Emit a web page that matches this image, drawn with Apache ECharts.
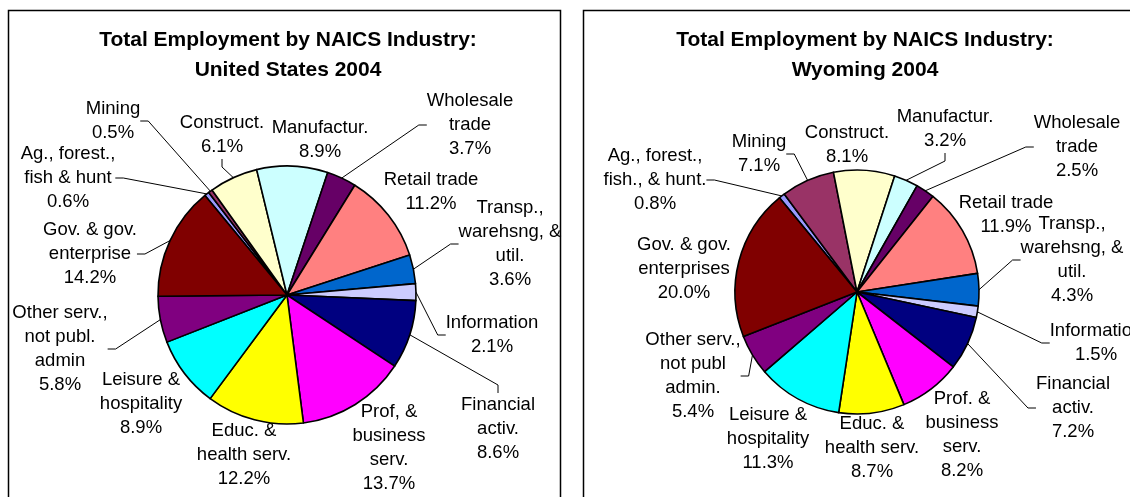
<!DOCTYPE html>
<html>
<head>
<meta charset="utf-8">
<script src="https://cdn.jsdelivr.net/npm/echarts@6/dist/echarts.min.js"></script>
<style>
  html, body { margin: 0; padding: 0; background: #fff; }
  #chart { width: 1130px; height: 497px; }
</style>
</head>
<body>
<div id="chart"></div>
<script>
// industries (clockwise from the first slice)
var usNames = [
  'Ag., forest.,\nfish & hunt', 'Mining', 'Construct.', 'Manufactur.',
  'Wholesale\ntrade', 'Retail trade', 'Transp.,\nwarehsng, &\nutil.', 'Information',
  'Financial\nactiv.', 'Prof, &\nbusiness\nserv.', 'Educ. &\nhealth serv.',
  'Leisure &\nhospitality', 'Other serv.,\nnot publ.\nadmin', 'Gov. & gov.\nenterprise'
];
var wyNames = [
  'Ag., forest.,\nfish., & hunt.', 'Mining', 'Construct.', 'Manufactur.',
  'Wholesale\ntrade', 'Retail trade', 'Transp.,\nwarehsng, &\nutil.', 'Information',
  'Financial\nactiv.', 'Prof. &\nbusiness\nserv.', 'Educ. &\nhealth serv.',
  'Leisure &\nhospitality', 'Other serv.,\nnot publ\nadmin.', 'Gov. & gov.\nenterprises'
];

// share of total employment, %
var usValues = [0.6, 0.5, 6.1, 8.9, 3.7, 11.2, 3.6, 2.1, 8.6, 13.7, 12.2, 8.9, 5.8, 14.2];
var wyValues = [0.8, 7.1, 8.1, 3.2, 2.5, 11.9, 4.3, 1.5, 7.2, 8.2, 8.7, 11.3, 5.4, 20.0];

var colors = [
  '#9999FF', '#993366', '#FFFFCC', '#CCFFFF', '#660066', '#FF8080', '#0066CC',
  '#CCCCFF', '#000080', '#FF00FF', '#FFFF00', '#00FFFF', '#800080', '#800000'
];

// label placement, offset of label centre from pie centre (px)
var usLabelOffsets = [
  [-219, -117], [-174, -174], [-65, -160], [33, -155], [183, -170], [144, -103], [223, -51],
  [205, 40], [211, 134], [102, 153], [-43, 160], [-146, 109], [-227, 54], [-197, -41]
];
var wyLabelOffsets = [
  [-202, -112], [-98, -138], [-10, -147], [88, -163], [220, -145], [149, -77], [215, -32],
  [239, 51], [216, 116], [105, 143], [15, 156], [-89, 147], [-164, 84], [-173, -23]
];
// which labels get a leader line
var usLeader = [1, 1, 1, 0, 1, 0, 1, 1, 1, 0, 0, 0, 1, 1];
var wyLeader = [1, 1, 0, 1, 1, 0, 1, 1, 1, 0, 0, 0, 1, 0];

var usCenter = [287, 295];
var wyCenter = [857, 292];

var FONT = '"Liberation Sans", Arial, sans-serif';

function buildData(names, values, leader) {
  return names.map(function (n, i) {
    return {
      name: n,
      value: values[i],
      itemStyle: { color: colors[i] },
      labelLine: { show: !!leader[i] }
    };
  });
}

function pieSeries(names, values, leader, center, radius, offsets) {
  return {
    type: 'pie',
    center: center,
    radius: radius,
    startAngle: 129.5,
    clockwise: true,
    avoidLabelOverlap: false,
    silent: true,
    itemStyle: { borderColor: '#000', borderWidth: 1.6 },
    label: {
      show: true,
      position: 'outside',
      color: '#000',
      fontFamily: FONT,
      fontSize: 18.5,
      lineHeight: 24,
      align: 'center',
      formatter: function (p) {
        return p.name + '\n' + p.value.toFixed(1) + '%';
      }
    },
    labelLine: {
      length: 10,
      length2: 8,
      lineStyle: { color: '#000', width: 1 }
    },
    labelLayout: function (p) {
      var o = offsets[p.dataIndex];
      return {
        x: center[0] + o[0],
        y: center[1] + o[1],
        align: 'center',
        verticalAlign: 'middle'
      };
    },
    data: buildData(names, values, leader)
  };
}

var chart = echarts.init(document.getElementById('chart'), null, { renderer: 'canvas' });
chart.setOption({
  backgroundColor: '#fff',
  animation: false,
  title: [
    {
      text: 'Total Employment by NAICS Industry:\nUnited States 2004',
      left: 288, top: 25, padding: 0, textAlign: 'center',
      textStyle: { fontFamily: FONT, fontSize: 21, fontWeight: 'bold', lineHeight: 30, color: '#000' }
    },
    {
      text: 'Total Employment by NAICS Industry:\nWyoming 2004',
      left: 865, top: 25, padding: 0, textAlign: 'center',
      textStyle: { fontFamily: FONT, fontSize: 21, fontWeight: 'bold', lineHeight: 30, color: '#000' }
    }
  ],
  graphic: [
    { type: 'rect', shape: { x: 8.5, y: 10.5, width: 552, height: 520 },
      style: { fill: 'none', stroke: '#000', lineWidth: 1.5 }, silent: true },
    { type: 'rect', shape: { x: 583.5, y: 10.5, width: 600, height: 520 },
      style: { fill: 'none', stroke: '#000', lineWidth: 1.5 }, silent: true }
  ],
  series: [
    pieSeries(usNames, usValues, usLeader, usCenter, 129, usLabelOffsets),
    pieSeries(wyNames, wyValues, wyLeader, wyCenter, 122, wyLabelOffsets)
  ]
});
</script>
</body>
</html>
